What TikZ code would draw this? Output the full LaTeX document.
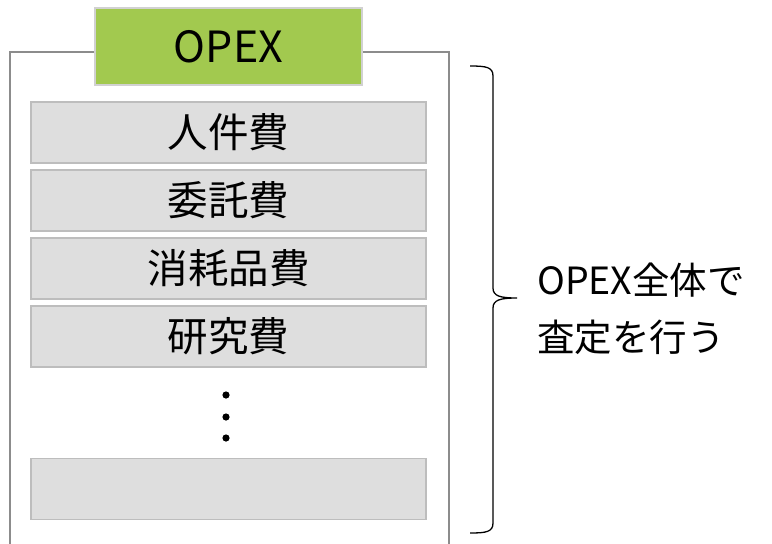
\documentclass[tikz,border=0pt]{standalone}
\usepackage{fontspec}
\setmainfont{Noto Sans CJK JP}
\definecolor{frame}{HTML}{8C8C8C}
\definecolor{itemfill}{HTML}{DEDEDE}
\definecolor{itemline}{HTML}{BDBDBD}
\definecolor{opexgreen}{HTML}{A2C94F}
\begin{document}
\begin{tikzpicture}[x=1pt,y=-1pt,
  item/.style={draw=itemline,line width=1.5pt,fill=itemfill,minimum width=395pt,minimum height=61pt,inner sep=0pt,font=\fontsize{40.5}{44}\selectfont},
  title/.style={draw=itemline!70,line width=1.2pt,fill=opexgreen,minimum width=267pt,minimum height=77pt,inner sep=0pt,font=\fontsize{43}{46}\selectfont},
  side/.style={anchor=west,inner sep=0pt,font=\fontsize{37.5}{40}\selectfont}]
\useasboundingbox (0,0) rectangle (772,544);
\draw[frame,line width=2pt] (10,52) rectangle (449,560);
\node[title] (opex) at (228.5,46.5) {OPEX};
\node[item] (a) at (228.5,132.5) {人件費};
\node[item] (b) at (228.5,200.5) {委託費};
\node[item] (c) at (228.5,268.5) {消耗品費};
\node[item] (d) at (228.5,336.5) {研究費};
\node[item] (e) at (228.5,489) {};
\foreach \yy in {395,417,438} \fill (226,\yy) circle (3.6pt);
\coordinate (bt) at (470,66);
\coordinate (bm) at (517,298);
\coordinate (bb) at (470,533);
\draw[line width=1.3pt] (bt) .. controls (486,66) and (493,67) .. (493,76) -- (493,288) .. controls (493,296) and (500,298) .. (bm)
  .. controls (500,298) and (493,300) .. (493,308) -- (493,523) .. controls (493,532) and (486,533) .. (bb);
\node[side] (t1) at (537,280) {OPEX全体で};
\node[side] (t2) at (537,337) {査定を行う};
\end{tikzpicture}
\end{document}
